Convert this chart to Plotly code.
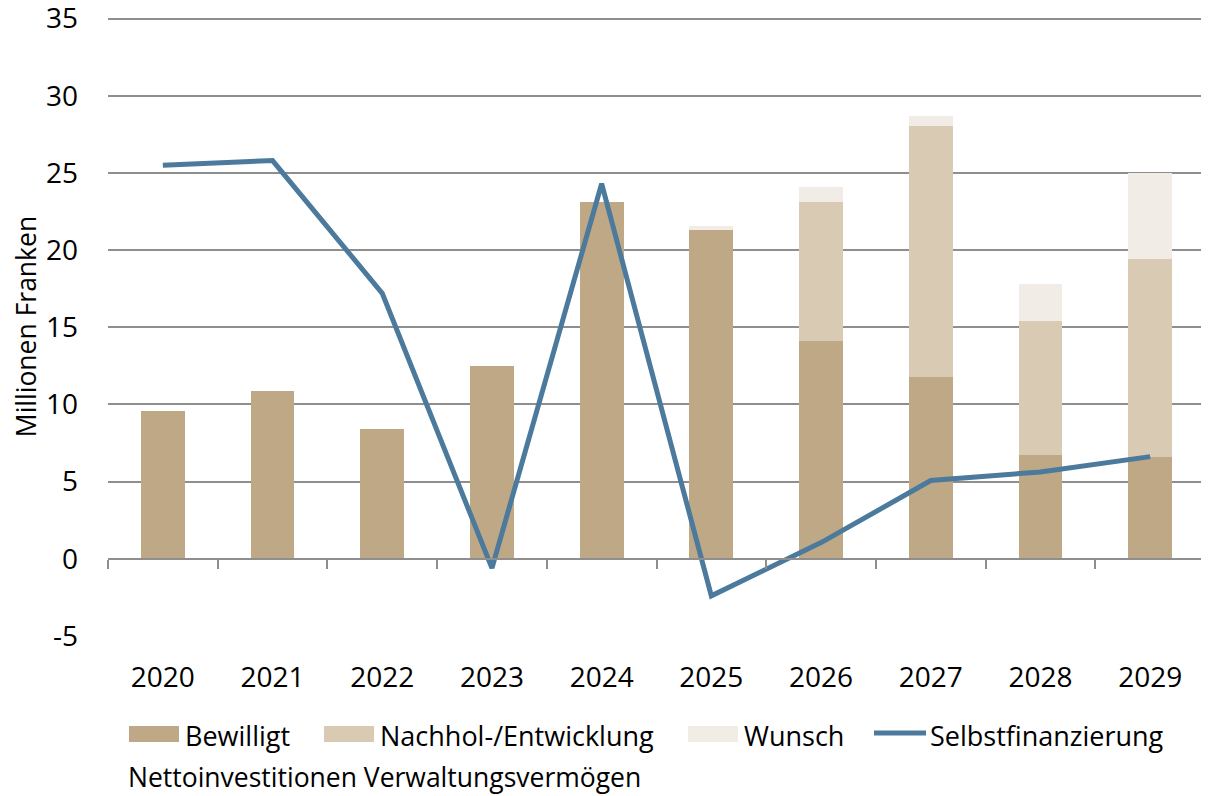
import plotly.graph_objects as go

# Daten
jahre = ['2020', '2021', '2022', '2023', '2024', '2025', '2026', '2027', '2028', '2029']
bewilligt = [9.6, 10.9, 8.4, 12.5, 23.1, 21.3, 14.1, 11.8, 6.7, 6.6]
nachhol = [0, 0, 0, 0, 0, 0, 9.0, 16.25, 8.7, 12.8]
wunsch = [0, 0, 0, 0, 0, 0.27, 1.0, 0.65, 2.4, 5.6]
selbstfinanzierung = [25.5, 25.8, 17.2, -0.6, 24.3, -2.4, 1.05, 5.07, 5.63, 6.62]
y_ticks = [-5, 0, 5, 10, 15, 20, 25, 30, 35]

FONT = 'Open Sans'
C_BEW = '#bea886'
C_NACH = '#d8cab3'
C_WUN = '#f1ece6'
C_LINE = '#4b7a9c'
C_GRID = '#8e8e8e'

# Seite hat 8px Rand -> Figur entsprechend kleiner
OFF = 8
W, H = 1209 - OFF, 796 - OFF
# Plotbereich in Bildpixeln (fuer die Legende)
L, R, T, B = 108, 1205, 17, 636


def px(x):
    return (x - L) / (R - L)


def py(y):
    return (B - y) / (B - T)


fig = go.Figure()

for name, werte, farbe in [('Bewilligt', bewilligt, C_BEW),
                           ('Nachhol-/Entwicklung', nachhol, C_NACH),
                           ('Wunsch', wunsch, C_WUN)]:
    fig.add_trace(go.Bar(
        x=jahre, y=werte, name=name,
        marker=dict(color=farbe, line=dict(width=0)),
        width=0.4,
        showlegend=False,
        hovertemplate='<b>%{x}</b><br>' + name + ': %{y}<extra></extra>'
    ))

fig.add_trace(go.Scatter(
    x=jahre, y=selbstfinanzierung, name='Selbstfinanzierung',
    mode='lines', line=dict(color=C_LINE, width=5),
    showlegend=False
))

# unsichtbare Spur fuer die Nulllinie mit Kategorie-Ticks
fig.add_trace(go.Scatter(
    x=jahre, y=[None] * len(jahre), xaxis='x2', showlegend=False,
    hoverinfo='skip'
))

# Legende von Hand
shapes = []
annotations = []
eintraege = [
    ('rect', C_BEW, 129, 'Bewilligt'),
    ('rect', C_NACH, 324, 'Nachhol-/Entwicklung'),
    ('rect', C_WUN, 688, 'Wunsch'),
    ('line', C_LINE, 874, 'Selbstfinanzierung'),
]
for art, farbe, x0, text in eintraege:
    if art == 'rect':
        shapes.append(dict(type='rect', xref='paper', yref='paper',
                           x0=px(x0), x1=px(x0 + 50), y0=py(742), y1=py(726),
                           fillcolor=farbe, line=dict(width=0)))
    else:
        shapes.append(dict(type='line', xref='paper', yref='paper',
                           x0=px(x0), x1=px(x0 + 52), y0=py(733), y1=py(733),
                           line=dict(color=farbe, width=5)))
    annotations.append(dict(text=text, xref='paper', yref='paper',
                            x=px(x0 + 54), y=py(735), xanchor='left', yanchor='middle',
                            showarrow=False, font=dict(size=27, color='#000000', family=FONT)))

annotations.append(dict(text='Nettoinvestitionen Verwaltungsvermögen', xref='paper', yref='paper',
                        x=px(126), y=py(777), xanchor='left', yanchor='middle',
                        showarrow=False, font=dict(size=26.5, color='#000000', family=FONT)))

fig.update_layout(
    width=W, height=H,
    margin=dict(l=L - OFF, r=W - (R - OFF), t=T - OFF, b=H - (B - OFF)),
    barmode='stack',
    plot_bgcolor='white',
    paper_bgcolor='white',
    font=dict(family=FONT, color='#000000', size=28),
    xaxis=dict(
        type='category',
        categoryorder='array', categoryarray=jahre,
        range=[-0.5, len(jahre) - 0.5],
        showgrid=False, showline=False, zeroline=False,
        ticks='', ticklabelstandoff=22,
        tickfont=dict(size=28, family=FONT),
        automargin=False
    ),
    xaxis2=dict(
        type='category',
        categoryorder='array', categoryarray=jahre,
        range=[-0.5, len(jahre) - 0.5],
        overlaying='x', anchor='free', position=(0 - y_ticks[0]) / (y_ticks[-1] + 0.1 - y_ticks[0]),
        showgrid=False, zeroline=False,
        showline=True, linecolor=C_GRID, linewidth=1.5,
        ticks='outside', tickson='boundaries', ticklen=9, tickcolor=C_GRID, tickwidth=1.5,
        showticklabels=False,
        automargin=False
    ),
    yaxis=dict(
        range=[y_ticks[0], y_ticks[-1] + 0.1],
        tickvals=y_ticks,
        ticktext=[str(v) for v in y_ticks],
        showgrid=True, gridcolor=C_GRID, gridwidth=1.5,
        zeroline=False, showline=False,
        ticks='', ticklabelstandoff=29,
        ticklabeloverflow='allow',
        tickfont=dict(size=28, family=FONT),
        title=dict(text='Millionen Franken', font=dict(size=26.5, family=FONT), standoff=18),
        automargin=False
    ),
    shapes=shapes,
    annotations=annotations,
    showlegend=False
)

fig.write_html("out.html")
